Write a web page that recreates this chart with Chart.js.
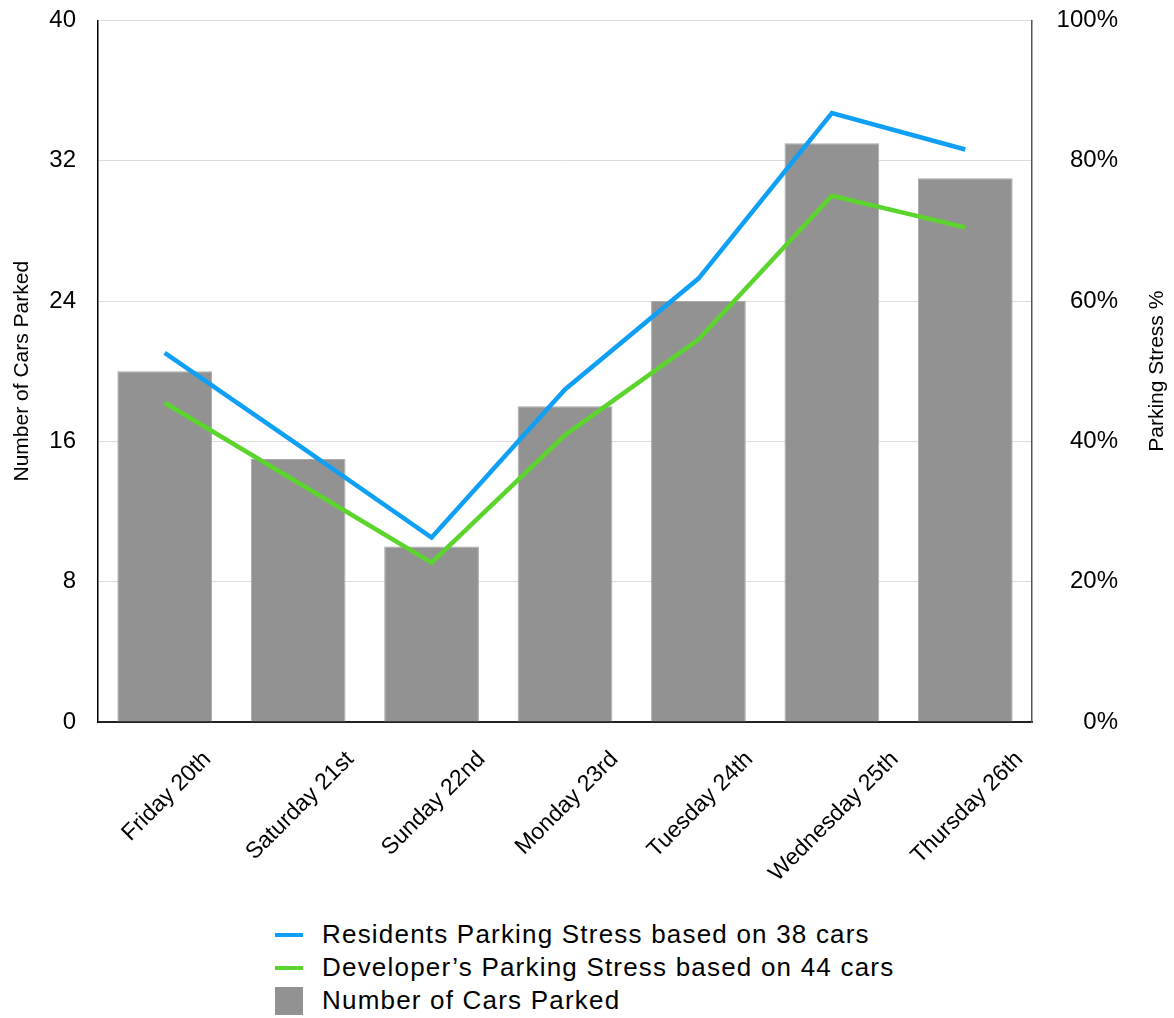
<!DOCTYPE html>
<html>
<head>
<meta charset="utf-8">
<script src="https://cdn.jsdelivr.net/npm/chart.js@4/dist/chart.umd.min.js"></script>
<style>
  html, body { margin: 0; padding: 0; background: #fff; }
  body { width: 1174px; height: 1018px; position: relative; overflow: hidden;
         font-family: "Liberation Sans", Arial, Helvetica, sans-serif; }
  #wrap { position: absolute; left: 0; top: -18px; width: 1174px; height: 918px; }
  #legend { position: absolute; left: 275px; top: 918px; }
  .row { height: 33px; display: flex; align-items: center; font-size: 26px; letter-spacing: 1.2px; color: #000; }
  .mark { width: 28px; margin-right: 19px; }
</style>
</head>
<body>
<div id="wrap"><canvas id="chart"></canvas></div>
<div id="legend"></div>
<script>
var days = ['Friday 20th', 'Saturday 21st', 'Sunday 22nd', 'Monday 23rd', 'Tuesday 24th', 'Wednesday 25th', 'Thursday 26th'];
var carsParked = [20, 15, 10, 18, 24, 33, 31];
var residentsStress = [52.6, 39.5, 26.3, 47.4, 63.2, 86.8, 81.6];
var developerStress = [45.5, 34.1, 22.7, 40.9, 54.5, 75.0, 70.5];
var seriesNames = ['Residents Parking Stress based on 38 cars', 'Developer\u2019s Parking Stress based on 44 cars', 'Number of Cars Parked'];

var FONT = '"Liberation Sans", Arial, Helvetica, sans-serif';
var BLUE = '#0fa0f5';
var GREEN = '#5cd42e';
var GREY = '#929292';

// x labels are centred on their category and the right title reads bottom to top
var extraText = {
  id: 'extraText',
  afterDraw: function (chart) {
    var ctx = chart.ctx;
    var xs = chart.scales.x;
    var area = chart.chartArea;
    ctx.save();
    ctx.fillStyle = '#000';
    ctx.font = '23px ' + FONT;
    ctx.textAlign = 'center';
    ctx.textBaseline = 'middle';
    for (var i = 0; i < days.length; ++i) {
      var w = ctx.measureText(days[i]).width;
      var cx = xs.getPixelForValue(i);
      var cy = area.bottom + 26 + (w + 22) * 0.3536;
      ctx.save();
      ctx.translate(cx + 2, cy);
      ctx.rotate(-Math.PI / 4);
      ctx.fillText(days[i], 0, 0);
      ctx.restore();
    }
    ctx.font = '21px ' + FONT;
    ctx.translate(1157, (area.top + area.bottom) / 2);
    ctx.rotate(-Math.PI / 2);
    ctx.fillText('Parking Stress %', 0, 0);
    ctx.restore();
  }
};

function buildLegend() {
  var colors = [BLUE, GREEN, GREY];
  var el = document.getElementById('legend');
  for (var i = 0; i < seriesNames.length; ++i) {
    var row = document.createElement('div');
    row.className = 'row';
    var m = document.createElement('div');
    m.className = 'mark';
    m.style.background = colors[i];
    m.style.height = i < 2 ? '4px' : '28px';
    row.appendChild(m);
    var t = document.createElement('span');
    t.textContent = seriesNames[i];
    row.appendChild(t);
    el.appendChild(row);
  }
}

Chart.defaults.font.family = FONT;
Chart.defaults.color = '#000';

var ctx = document.getElementById('chart').getContext('2d');
var chart = new Chart(ctx, {
  type: 'bar',
  data: {
    labels: days,
    datasets: [
      {
        type: 'line',
        label: seriesNames[0],
        data: residentsStress,
        yAxisID: 'y2',
        borderColor: BLUE,
        backgroundColor: BLUE,
        borderWidth: 4.5,
        pointRadius: 0,
        tension: 0,
        order: 0,
      },
      {
        type: 'line',
        label: seriesNames[1],
        data: developerStress,
        yAxisID: 'y2',
        borderColor: GREEN,
        backgroundColor: GREEN,
        borderWidth: 4.5,
        pointRadius: 0,
        tension: 0,
        order: 1,
      },
      {
        label: seriesNames[2],
        data: carsParked,
        yAxisID: 'y',
        backgroundColor: GREY,
        borderColor: '#a9a9a9',
        borderWidth: 1,
        barPercentage: 0.71,
        categoryPercentage: 1,
        order: 2,
      },
    ],
  },
  options: {
    responsive: true,
    maintainAspectRatio: false,
    animation: false,
    layout: {
      padding: { top: 2, left: 0, right: 56, bottom: 0 },
    },
    plugins: {
      legend: { display: false },
      tooltip: { enabled: false },
    },
    scales: {
      x: {
        grid: { display: false },
        border: { color: '#222', width: 2 },
        ticks: { display: false },
        afterFit: function (scale) {
          scale.height = 178;
        },
      },
      y: {
        position: 'left',
        min: 0,
        max: 40,
        ticks: { stepSize: 8, font: { size: 24 }, padding: 22, color: '#000' },
        grid: { color: '#dcdcdc', drawTicks: false },
        border: { color: '#000', width: 1.5 },
        title: {
          display: true,
          text: 'Number of Cars Parked',
          font: { size: 21 },
          color: '#000',
          padding: { top: 10, bottom: 0 },
        },
        afterFit: function (scale) {
          scale.width = 98;
        },
      },
      y2: {
        position: 'right',
        min: 0,
        max: 100,
        ticks: {
          stepSize: 20,
          font: { size: 24 },
          padding: 24,
          crossAlign: 'far',
          color: '#000',
          callback: function (v) {
            return v + '%';
          },
        },
        grid: { drawOnChartArea: false, drawTicks: false },
        border: { color: '#555', width: 1.5 },
        afterFit: function (scale) {
          scale.width = 86;
        },
      },
    },
  },
  plugins: [extraText],
});

buildLegend();
</script>
</body>
</html>
